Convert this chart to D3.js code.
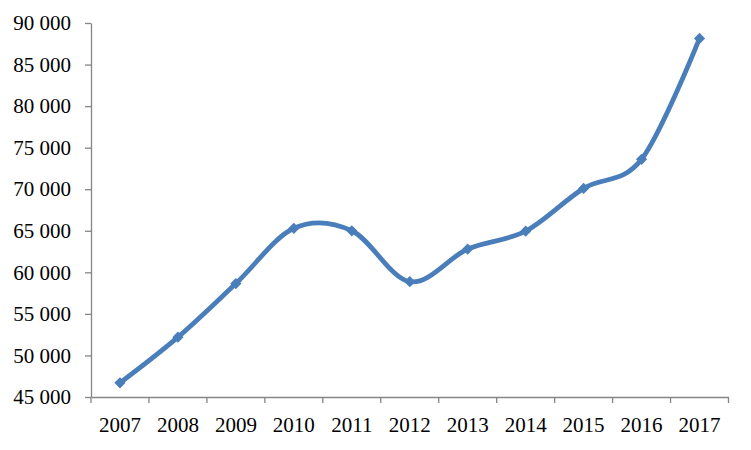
<!DOCTYPE html>
<html>
<head>
<meta charset="utf-8">
<script src="https://cdn.jsdelivr.net/npm/d3@7"></script>
<style>
  html, body { margin: 0; padding: 0; background: #fff; }
  svg { display: block; }
  .tick text { font-family: "Liberation Serif", "Times New Roman", serif; font-size: 21px; fill: #000; }
</style>
</head>
<body>
<svg id="chart" width="751" height="450"></svg>
<script>
const years = ["2007","2008","2009","2010","2011","2012","2013","2014","2015","2016","2017"];
const values = [46700, 52200, 58650, 65300, 65000, 58870, 62800, 64950, 70100, 73600, 88150];
const yTicks = [45000, 50000, 55000, 60000, 65000, 70000, 75000, 80000, 85000, 90000];

(function () {
const svg = d3.select("#chart");
const mLeft = 91, mRight = 728.5, mTop = 23, mBottom = 397;

const x = d3.scaleBand().domain(years).range([mLeft, mRight]).paddingInner(0).paddingOuter(0);
const y = d3.scaleLinear().domain([45000, 90000]).range([mBottom, mTop]);

const fmt = v => d3.format(",")(v).replace(/,/g, " ");
const axisColor = "#868686";

// Y axis
const yAxis = svg.append("g").attr("transform", `translate(${mLeft},0)`)
  .call(d3.axisLeft(y).tickValues(yTicks).tickFormat(fmt).tickSize(6).tickPadding(14).tickSizeOuter(0));
yAxis.select(".domain").attr("stroke", axisColor).attr("stroke-width", 1.3);
yAxis.selectAll(".tick line").attr("stroke", axisColor).attr("stroke-width", 1.3);

// X axis
const xAxis = svg.append("g").attr("transform", `translate(0,${mBottom})`)
  .call(d3.axisBottom(x).tickSize(0).tickPadding(20).tickSizeOuter(0));
xAxis.select(".domain").attr("stroke", axisColor).attr("stroke-width", 1.3);
const bounds = years.map(d => x(d)).concat([x(years[years.length-1]) + x.bandwidth()]);
xAxis.selectAll(".bnd").data(bounds).enter().append("line")
  .attr("x1", d => d).attr("x2", d => d).attr("y1", 0).attr("y2", 6)
  .attr("stroke", axisColor).attr("stroke-width", 1.3);

const pts = years.map((d, i) => [x(d) + x.bandwidth() / 2, y(values[i])]);
const color = "#4A7EBB";

svg.append("path")
  .attr("d", d3.line().curve(d3.curveCardinal.tension(0))(pts))
  .attr("fill", "none").attr("stroke", color).attr("stroke-width", 4.8)
  .attr("stroke-linejoin", "round").attr("stroke-linecap", "round");

svg.selectAll(".mk").data(pts).enter().append("path")
  .attr("transform", d => `translate(${d[0]},${d[1]})`)
  .attr("d", d3.symbol().type(d3.symbolDiamond2).size(80))
  .attr("fill", color);
})();
</script>
</body>
</html>
